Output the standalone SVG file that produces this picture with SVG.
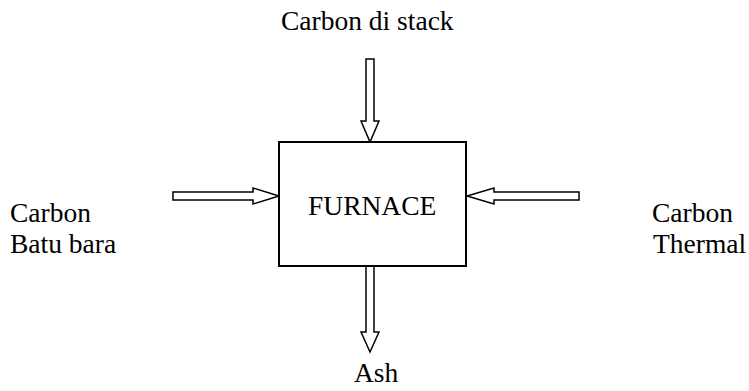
<svg xmlns="http://www.w3.org/2000/svg" width="749" height="391" viewBox="0 0 749 391">
<style>
.t{font-family:"Liberation Serif","Times New Roman",serif;font-size:27.5px;fill:#000}
.a{fill:#fff;stroke:#000;stroke-width:1.5;stroke-linejoin:miter}
.box{fill:#fff;stroke:#000;stroke-width:2}
</style>
<rect width="749" height="391" fill="#fff"/>
<g id="connectors">
<polygon class="a" points="366,59 374,59 374,121 379,121 370,142 361,121 366,121"/>
<polygon class="a" points="173,192 253,192 253,188 279,196 253,204 253,200 173,200"/>
<polygon class="a" points="579,192 494,192 494,188 467,196 494,204 494,200 579,200"/>
<polygon class="a" points="366,266 374,266 374,332 379,332 370,352 361,332 366,332"/>
</g>
<g id="furnace">
<rect class="box" x="279" y="142" width="187" height="124"/>
<text class="t" x="308" y="215">FURNACE</text>
</g>
<g id="stack"><text class="t" x="281" y="30">Carbon di stack</text></g>
<g id="batubara"><text class="t" x="10" y="222">Carbon</text><text class="t" x="10" y="253">Batu bara</text></g>
<g id="thermal"><text class="t" x="652" y="222">Carbon</text><text class="t" x="653" y="253">Thermal</text></g>
<g id="ash"><text class="t" x="354" y="382" font-size="26">Ash</text></g>
</svg>
